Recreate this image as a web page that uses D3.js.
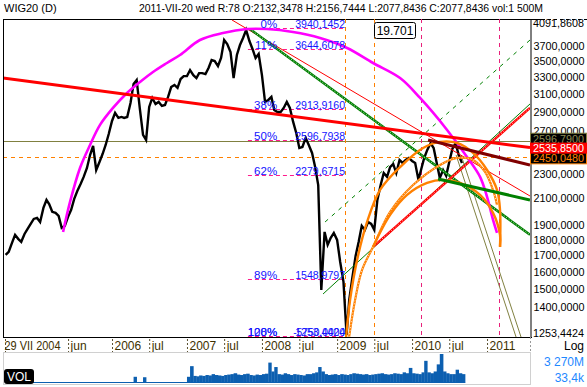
<!DOCTYPE html>
<html>
<head>
<meta charset="utf-8">
<script src="https://cdn.jsdelivr.net/npm/d3@7"></script>
<style>
  body { margin: 0; background: #fff; }
  svg { display: block; font-family: 'Liberation Sans', Arial, sans-serif; }
</style>
</head>
<body>
<svg id="chart" width="587" height="387"></svg>
<script>
// WIG20 daily on a half-month grid (1st and 16th of each month)
const price2004 = [1701, 1721, 1779, 1833, 1806, 1786, 1839, 1874, 1909, 1945]; // from Aug
const price2005 = [1952, 1923, 2026, 2087, 2056, 1997, 1989, 1967, 1881, 1895, 1960, 2012, 2095, 2158, 2214, 2274, 2351, 2467, 2551, 2333, 2404, 2476, 2561, 2668];
const price2006 = [2800, 2885, 2832, 2842, 2832, 2842, 2994, 3213, 3261, 2939, 2658, 2609, 2950, 3050, 2983, 3006, 2961, 2972, 3062, 3177, 3201, 3166, 3273, 3309];
const price2007 = [3309, 3384, 3321, 3285, 3346, 3346, 3334, 3410, 3513, 3500, 3435, 3539, 3784, 3728, 3619, 3285, 3579, 3714, 3812, 3927, 3770, 3660, 3539, 3592];
const price2008 = [3321, 3006, 3028, 3062, 2917, 2895, 2895, 2939, 3006, 2939, 2790, 2678, 2532, 2542, 2629, 2561, 2486, 2359, 2206, 1493, 1853, 1766, 1813, 1846];
const price2009 = [1799, 1657, 1539, 1263, 1439, 1562, 1695, 1786, 1895, 1867, 1923, 1909, 1867, 2087, 2206, 2307, 2274, 2359, 2386, 2307, 2422, 2395, 2422, 2440];
const price2010 = [2413, 2395, 2249, 2351, 2440, 2514, 2578, 2532, 2395, 2266, 2333, 2283, 2404, 2523, 2578, 2467, 2395]; // to Sep

// volume, mln
const vol2004 = [40, 40, 40, 40, 40, 40, 40, 40, 40, 40];
const vol2005 = [40, 40, 40, 40, 40, 40, 40, 40, 40, 40, 40, 40, 40, 40, 40, 40, 40, 40, 40, 40, 40, 40, 40, 40];
const vol2006 = [40, 40, 40, 40, 40, 40, 40, 700, 40, 40, 650, 40, 40, 40, 40, 40, 40, 40, 40, 40, 40, 40, 40, 40];
const vol2007 = [700, 1900, 800, 750, 850, 800, 900, 850, 1000, 900, 850, 800, 900, 950, 1000, 1100, 950, 900, 1000, 1050, 900, 850, 950, 900];
const vol2008 = [1000, 1050, 2300, 1300, 1800, 1000, 950, 1100, 1000, 900, 1000, 950, 900, 850, 1000, 1000, 1100, 1200, 1800, 1300, 1000, 900, 950, 1000];
const vol2009 = [900, 1000, 950, 900, 1000, 1100, 1050, 1000, 950, 1000, 900, 950, 1000, 1050, 1100, 1000, 950, 1000, 1100, 1050, 1000, 1200, 1100, 1700];
const vol2010 = [1100, 1050, 1000, 1200, 2500, 1200, 1100, 1300, 2100, 3270, 1300, 1100, 1000, 1000, 1500, 1100, 1000];

// drawing tools, [year fraction, value]
const redTrend = [[2004.547, 3285], [2011.573, 2535.85]];
const maroonTrend = [[2010.213, 2609], [2011.573, 2377]];
const redFan = [[2007.6, 4077], [2011.573, 2118]];
const redRise = [[2009.48, 1753], [2011.573, 2939]];
const greenFan = [[2007.84, 3942], [2011.573, 1833]];
const greenRise = [[2008.813, 1471], [2011.573, 2983]];
const greenDashRise = [[2008.84, 1923], [2011.573, 3784]];
const greenTrend = [[2010.347, 2257], [2011.573, 2087]];
const oliveFallA = [[2010.587, 2467], [2011.387, 1253.44]];
const oliveFallB = [[2010.653, 2467], [2011.453, 1253.44]];
const magentaArc = [[2005.347, 1853], [2005.44, 2072], [2005.573, 2351], [2005.707, 2561], [2005.84, 2759], [2006.013, 2939], [2006.2, 3107], [2006.373, 3237], [2006.547, 3359], [2006.733, 3474], [2006.907, 3579], [2007.173, 3784], [2007.48, 3884], [2007.8, 3942], [2008.067, 3942], [2008.413, 3898], [2008.773, 3812], [2009.133, 3674], [2009.48, 3474], [2009.84, 3285], [2010.107, 3050], [2010.467, 2708], [2010.733, 2449], [2010.907, 2274], [2011.0, 2111], [2011.08, 1938], [2011.133, 1846]];
const orangeArc1 = [[2009.12, 1253.44], [2009.173, 1439], [2009.267, 1670], [2009.4, 1923], [2009.573, 2166], [2009.84, 2359], [2010.147, 2532], [2010.373, 2590], [2010.6, 2580], [2010.813, 2486], [2011.0, 2333], [2011.133, 2166], [2011.173, 2012], [2011.173, 1753]];
const orangeArc2 = [[2009.16, 1253.44], [2009.24, 1439], [2009.333, 1609], [2009.48, 1753], [2009.707, 1997], [2010.013, 2206], [2010.373, 2377], [2010.6, 2440], [2010.813, 2422], [2010.973, 2316], [2011.08, 2166], [2011.133, 2049]];
const orangeArc3 = [[2009.48, 1753], [2009.707, 1974], [2009.933, 2127], [2010.2, 2224], [2010.413, 2249], [2010.64, 2224], [2010.907, 2127], [2011.08, 1989], [2011.173, 1833], [2011.173, 1753]];

const fibLevels = ['0%', '11%', '38%', '50%', '62%', '89%', '100%'];
const fibValues = [3940.1452, 3644.6078, 2913.9160, 2596.7938, 2279.6715, 1548.9797, 1253.4424];
const fibRange = [2007.813, 2009.107];

const orangeMarks = [2009.107, 2009.493];
const pinkMarks = [2010.12, 2011.16];
const oliveLevel = 2596.79;
const orangeLevel = 2450.048;
const redLevel = 2535.85;

const yDomain = [1253.4424, 4091.8608];
const yTicks = [3700, 3500, 3300, 3100, 2900, 2700, 2300, 2100, 1900, 1800, 1700, 1600, 1500, 1400];
const xTickDates = ['2004-07-29', '2005-06-01', '2006-01-01', '2006-07-01', '2007-01-01', '2007-07-01', '2008-01-01', '2008-07-01', '2009-01-01', '2009-07-01', '2010-01-01', '2010-07-01', '2011-01-01'];
const xTickLabels = ['29 VII 2004', 'jun', '2006', 'jul', '2007', 'jul', '2008', 'jul', '2009', 'jul', '2010', 'jul', '2011'];

const title = 'WIG20 (D)';
const info = '2011-VII-20 wed R:78 O:2132,3478 H:2156,7444 L:2077,8436 C:2077,8436 vol:1 500M';
const cursorLabel = '19.701';
const cursorDate = 2009.493;

// helpers
const yearFrac = t => {
  const yr = Math.floor(t);
  const a = new Date(yr, 0, 1), b = new Date(yr + 1, 0, 1);
  return new Date(+a + (t - yr) * (b - a));
};
const halfMonths = (year, firstMonth, n) => d3.range(n).map(i => {
  const k = firstMonth * 2 + i;
  return new Date(year, Math.floor(k / 2), k % 2 ? 16 : 1);
});
const toSeries = rows => rows.flatMap(([yr, m, vals]) =>
  halfMonths(yr, m, vals.length).map((d, i) => ({ date: d, value: vals[i] })));

const prices = toSeries([[2004, 7, price2004], [2005, 0, price2005], [2006, 0, price2006], [2007, 0, price2007], [2008, 0, price2008], [2009, 0, price2009], [2010, 0, price2010]]);
const volumes = toSeries([[2004, 7, vol2004], [2005, 0, vol2005], [2006, 0, vol2006], [2007, 0, vol2007], [2008, 0, vol2008], [2009, 0, vol2009], [2010, 0, vol2010]]);

const numFmt = v => d3.format('.4f')(v).replace('.', ',');
const parse = d3.timeParse('%Y-%m-%d');

const pLeft = 3, pRight = 530, pTop = 19, pBottom = 337;
const svg = d3.select('#chart');

const x = d3.scaleTime().domain([yearFrac(2004.547), yearFrac(2011.573)]).range([pLeft, pRight]);
const y = d3.scaleLog().domain(yDomain).range([pBottom, pTop]);
const yVol = d3.scaleLinear().domain([0, 3270]).range([383, 354]);

// header
svg.append('text').attr('x', 4).attr('y', 12).style('font-size', '11px').text(title);
svg.append('text').attr('x', 139).attr('y', 12).style('font-size', '11px')
  .attr('textLength', 404).attr('lengthAdjust', 'spacingAndGlyphs').text(info);
svg.append('line').attr('x1', pLeft).attr('x2', 542).attr('y1', 19.5).attr('y2', 19.5).attr('stroke', '#000');
svg.append('line').attr('x1', 542).attr('x2', 587).attr('y1', 19.5).attr('y2', 19.5)
  .attr('stroke', '#000').attr('stroke-dasharray', '3,3');

svg.append('defs').append('clipPath').attr('id', 'plot')
  .append('rect').attr('x', pLeft).attr('y', pTop).attr('width', pRight - pLeft).attr('height', pBottom - pTop);
const plot = svg.append('g').attr('clip-path', 'url(#plot)');

// horizontal levels
plot.append('line').attr('x1', pLeft).attr('x2', pRight)
  .attr('y1', Math.round(y(oliveLevel)) + 0.5).attr('y2', Math.round(y(oliveLevel)) + 0.5)
  .attr('stroke', '#808040');
plot.append('line').attr('x1', pLeft).attr('x2', pRight)
  .attr('y1', Math.round(y(orangeLevel)) + 0.5).attr('y2', Math.round(y(orangeLevel)) + 0.5)
  .attr('stroke', '#ff8000').attr('stroke-dasharray', '4,4');

// vertical markers
const vmark = (t, color) => plot.append('line')
  .attr('x1', Math.round(x(yearFrac(t))) + 0.5).attr('x2', Math.round(x(yearFrac(t))) + 0.5)
  .attr('y1', pTop).attr('y2', pBottom)
  .attr('stroke', color).attr('stroke-dasharray', '4,4');
orangeMarks.forEach(t => vmark(t, '#ff8000'));
pinkMarks.forEach(t => vmark(t, '#e8207a'));

// fibo lines
fibValues.forEach(v => {
  plot.append('line')
    .attr('x1', x(yearFrac(fibRange[0]))).attr('x2', x(yearFrac(fibRange[1])))
    .attr('y1', Math.round(y(v)) - 0.5).attr('y2', Math.round(y(v)) - 0.5)
    .attr('stroke', '#ff1a8c').attr('stroke-dasharray', '4,3');
});

// price
plot.append('path').datum(prices)
  .attr('d', d3.line().x(d => x(d.date)).y(d => y(d.value)))
  .attr('fill', 'none').attr('stroke', '#000').attr('stroke-width', 2.4)
  .attr('stroke-linejoin', 'miter');

// tools
const toolLine = d3.line().x(d => x(yearFrac(d[0]))).y(d => y(d[1]));
const arcLine = d3.line().x(d => x(yearFrac(d[0]))).y(d => y(d[1])).curve(d3.curveCatmullRom);
const draw = (data, gen, color, w, dash, hatch) => {
  plot.append('path').datum(data).attr('d', gen)
    .attr('fill', 'none').attr('stroke', color).attr('stroke-width', w)
    .attr('stroke-dasharray', dash || null);
  if (hatch) {
    plot.append('path').datum(data).attr('d', gen)
      .attr('fill', 'none').attr('stroke', '#fff').attr('stroke-width', 0.8)
      .attr('stroke-dasharray', '1,2');
  }
};

draw(oliveFallA, toolLine, '#808040', 1);
draw(oliveFallB, toolLine, '#808040', 1);
draw(redFan, toolLine, '#ff0000', 1);
draw(greenFan, toolLine, '#008000', 2.5, null, true);
draw(greenDashRise, toolLine, '#008000', 1, '4,5');
draw(greenRise, toolLine, '#008000', 1);
draw(redRise, toolLine, '#ff0000', 2.5, null, true);
draw(magentaArc, arcLine, '#ff00ff', 2.6);
draw(orangeArc2, arcLine, '#ff8000', 2.2, null, true);
draw(orangeArc1, arcLine, '#ff8000', 2.4);
draw(orangeArc3, arcLine, '#ff8000', 2.4);
draw(greenTrend, toolLine, '#008000', 3);
draw(maroonTrend, toolLine, '#800000', 3);
draw(redTrend, toolLine, '#ff0000', 3);

// fibo labels
const fibG = svg.append('g').style('font-size', '11.5px').attr('fill', '#1414ff');
fibValues.forEach((v, i) => {
  const xr = x(yearFrac(fibRange[1]));
  const yy = Math.min(y(v) - 1, pBottom);
  fibG.append('text').attr('x', xr - 68).attr('y', yy).attr('text-anchor', 'end').text(fibLevels[i]);
  fibG.append('text').attr('x', xr).attr('y', yy).attr('text-anchor', 'end')
    .attr('textLength', 50).attr('lengthAdjust', 'spacingAndGlyphs').text(numFmt(v));
});
// overprinted extension level at the bottom
fibG.append('text').attr('x', x(yearFrac(fibRange[1])) - 68).attr('y', pBottom - 1).attr('text-anchor', 'end').text('128%');
fibG.append('text').attr('x', x(yearFrac(fibRange[1]))).attr('y', pBottom - 1).attr('text-anchor', 'end')
  .attr('textLength', 52).attr('lengthAdjust', 'spacingAndGlyphs').text('-5750,0000');

// cursor box
const cx = Math.round(x(yearFrac(cursorDate))) + 0.5;
svg.append('rect').attr('x', cx).attr('y', 22.5).attr('width', 41).attr('height', 16).attr('rx', 2)
  .attr('fill', '#fff').attr('stroke', '#000');
svg.append('text').attr('x', cx + 20.5).attr('y', 34.5).attr('text-anchor', 'middle')
  .style('font-size', '12px').text(cursorLabel);

// frame
svg.append('line').attr('x1', pLeft + 0.5).attr('x2', pLeft + 0.5).attr('y1', pTop).attr('y2', pBottom).attr('stroke', '#000');
svg.append('line').attr('x1', pLeft).attr('x2', pRight + 2).attr('y1', pBottom + 0.5).attr('y2', pBottom + 0.5).attr('stroke', '#000');

// right axis
const yAxis = svg.append('g').attr('transform', `translate(${pRight + 0.5},0)`)
  .call(d3.axisRight(y).tickValues(yTicks).tickFormat(numFmt).tickSize(0).tickPadding(3));
yAxis.select('.domain').attr('stroke', '#000');
yAxis.selectAll('text').style('font-size', '11.5px').style('font-family', "'Liberation Sans', Arial, sans-serif")
  .attr('fill', '#000').attr('textLength', 51).attr('lengthAdjust', 'spacingAndGlyphs');
svg.append('text').attr('x', pRight + 3).attr('y', y(yDomain[1]) + 8).style('font-size', '11.5px')
  .attr('textLength', 51).attr('lengthAdjust', 'spacingAndGlyphs').text(numFmt(yDomain[1]));
svg.append('text').attr('x', pRight + 3).attr('y', y(yDomain[0]) - 0.5).style('font-size', '11.5px')
  .attr('textLength', 51).attr('lengthAdjust', 'spacingAndGlyphs').text(numFmt(yDomain[0]));

// level boxes on the axis
const levelBox = (v, dy, h, fill, stroke, color) => {
  const yy = y(v) + dy;
  svg.append('rect').attr('x', pRight + 0.5).attr('y', yy).attr('width', 56).attr('height', h)
    .attr('fill', fill).attr('stroke', stroke);
  svg.append('text').attr('x', pRight + 3).attr('y', yy + h - 1.5).style('font-size', '11.5px')
    .attr('fill', color).attr('textLength', 51).attr('lengthAdjust', 'spacingAndGlyphs').text(numFmt(v));
};
levelBox(oliveLevel, -8, 11, '#000', '#808040', '#8c8c55');
levelBox(orangeLevel, -5, 12, '#000', '#ff8000', '#ff8000');
levelBox(redLevel, -4.5, 10, '#ff0000', '#ff0000', '#fff');

// x axis
const xAxis = svg.append('g').attr('transform', `translate(0,${pBottom + 2})`)
  .call(d3.axisBottom(x).tickValues(xTickDates.map(parse))
    .tickFormat((d, i) => xTickLabels[i]).tickSize(13));
xAxis.select('.domain').remove();
xAxis.selectAll('line').attr('stroke', '#5a5030').attr('stroke-dasharray', '2,2');
xAxis.selectAll('text').attr('text-anchor', 'start').attr('x', (d, i) => i === 0 ? -1 : 2)
  .attr('y', 11).attr('dy', 0)
  .style('font-size', '12px').style('font-family', "'Liberation Sans', Arial, sans-serif")
  .attr('fill', '#3d3000')
  .filter((d, i) => i === 0).attr('textLength', 56).attr('lengthAdjust', 'spacingAndGlyphs');
svg.append('line').attr('x1', pRight + 0.5).attr('x2', pRight + 0.5).attr('y1', pBottom).attr('y2', 352)
  .attr('stroke', '#999').attr('stroke-dasharray', '2,2');
svg.append('text').attr('x', 584).attr('y', 350).attr('text-anchor', 'end').style('font-size', '12px').text('Log');

// volume pane
svg.append('rect').attr('x', pLeft + 0.5).attr('y', 352.5).attr('width', pRight - pLeft).attr('height', 32)
  .attr('fill', 'none').attr('stroke', '#d0d0d0');
const next = d => { const n = new Date(d); if (n.getDate() === 1) n.setDate(16); else { n.setMonth(n.getMonth() + 1); n.setDate(1); } return n; };
svg.append('g').selectAll('rect').data(volumes).join('rect')
  .attr('x', d => x(d.date)).attr('width', d => x(next(d.date)) - x(d.date) + 0.3)
  .attr('y', d => yVol(d.value)).attr('height', d => yVol(0) - yVol(d.value))
  .attr('fill', '#0c5fb0');
svg.append('line').attr('x1', x(volumes[0].date)).attr('x2', x(next(volumes[volumes.length - 1].date)))
  .attr('y1', yVol(0) - 0.5).attr('y2', yVol(0) - 0.5).attr('stroke', '#0c5fb0');
svg.append('rect').attr('x', 4).attr('y', 369).attr('width', 30).attr('height', 15).attr('rx', 3).attr('fill', '#000');
svg.append('text').attr('x', 19).attr('y', 381).attr('text-anchor', 'middle').attr('fill', '#fff')
  .style('font-size', '12px').text('VOL');
svg.append('text').attr('x', 584).attr('y', 366).attr('text-anchor', 'end').attr('fill', '#1e88ff')
  .style('font-size', '12px').text('3 270M');
svg.append('text').attr('x', 584).attr('y', 382).attr('text-anchor', 'end').attr('fill', '#1e88ff')
  .style('font-size', '12px').text('33,4k');
</script>
</body>
</html>
